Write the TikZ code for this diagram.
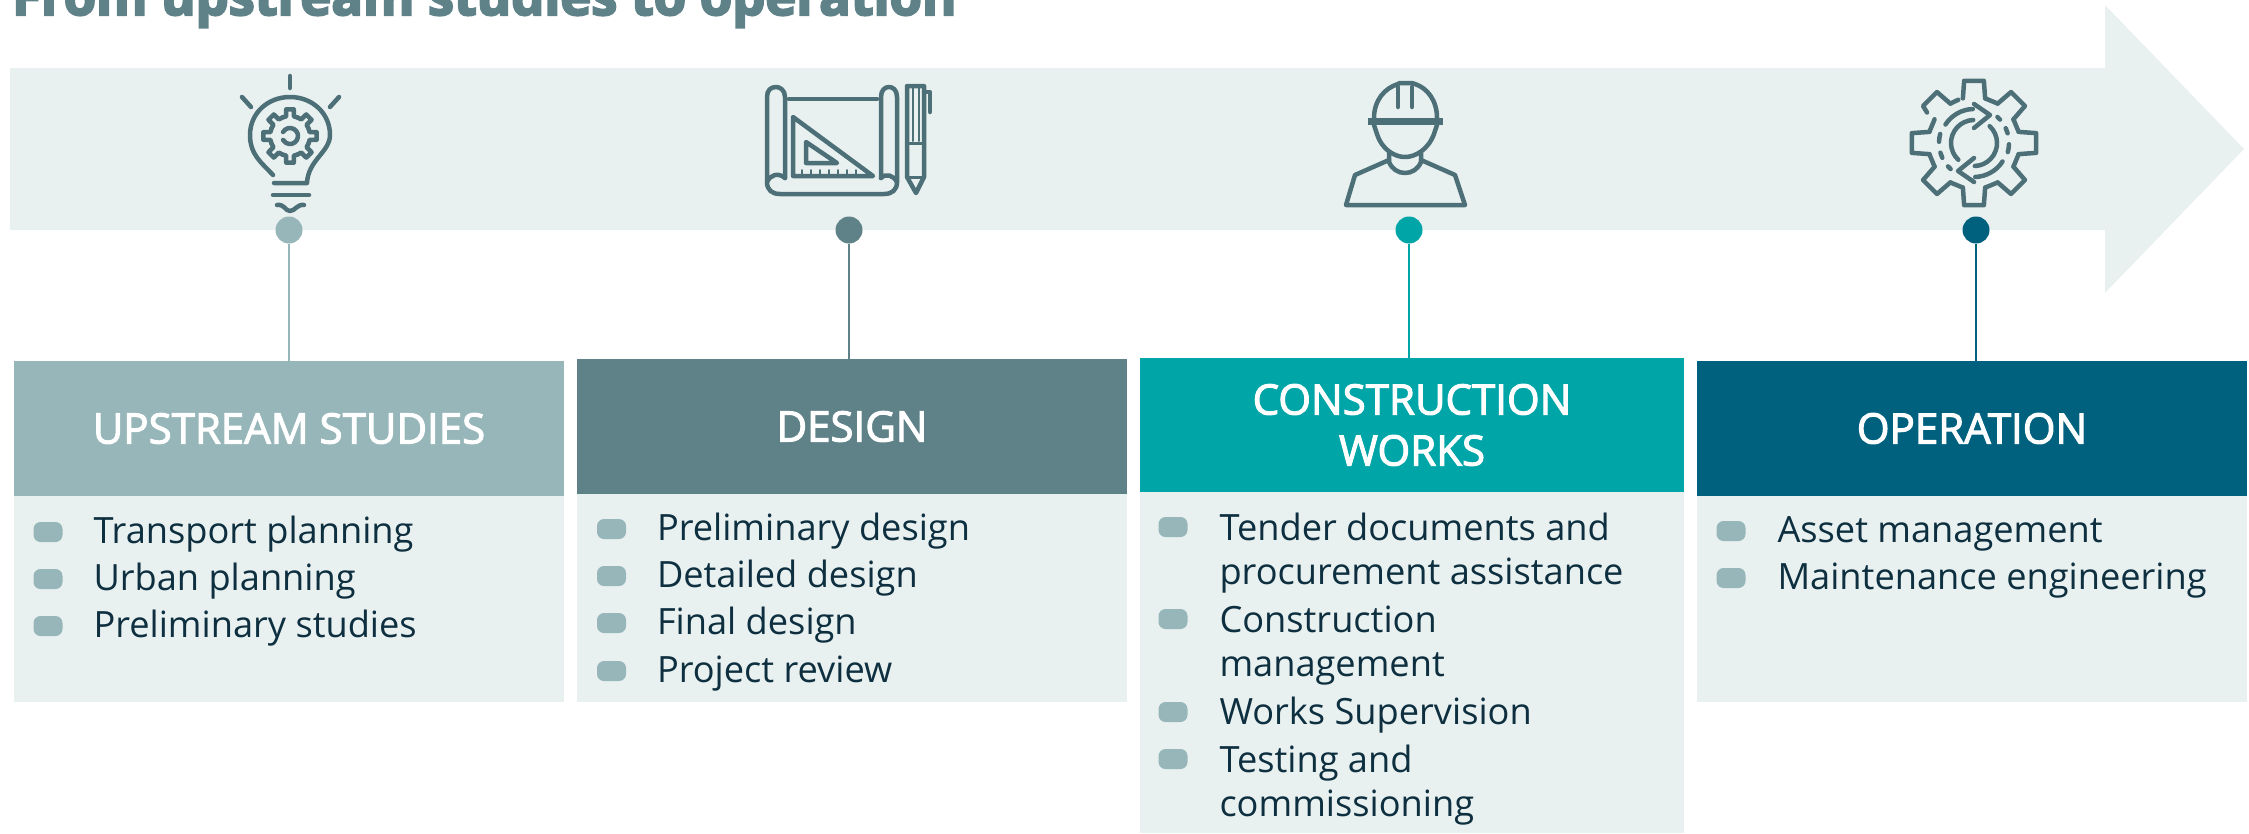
\documentclass[tikz,border=0pt]{standalone}
\usepackage{fontspec}
\setmainfont{Open Sans}
\newfontfamily\headfont[FakeBold=2.5]{Open Sans}
\newfontfamily\titlefont[FakeBold=4]{Open Sans Bold}
\usepackage{tikz}
\usetikzlibrary{positioning}
\definecolor{pale}{HTML}{E9F1F0}
\definecolor{studiesc}{HTML}{97B6B9}
\definecolor{designc}{HTML}{5F8289}
\definecolor{worksc}{HTML}{00A5A8}
\definecolor{operc}{HTML}{00617F}
\definecolor{inkc}{HTML}{0D2F3F}
\definecolor{iconc}{HTML}{4D6F77}
\tikzstyle{heading} = [rectangle, inner sep=0pt, outer sep=0pt, minimum width=550pt, minimum height=135pt, text centered, text=white, font=\headfont\fontsize{42}{51}\selectfont]
\tikzstyle{bodybox} = [rectangle, inner sep=0pt, outer sep=0pt, minimum width=550pt, fill=pale]
\tikzstyle{dot} = [circle, inner sep=0pt, outer sep=0pt, minimum size=27pt]
\tikzstyle{bullet} = [rectangle, rounded corners=7pt, inner sep=0pt, outer sep=0pt, minimum width=29pt, minimum height=20pt, fill=studiesc]
\tikzstyle{entry} = [anchor=base west, inner sep=0pt, outer sep=0pt, align=left, text=inkc, font=\fontsize{36.2}{44}\selectfont]
\tikzstyle{icon} = [draw=iconc, line width=4.5pt, line cap=round, line join=round]
\tikzstyle{link} = [line width=2.5pt]

\begin{document}
\begin{tikzpicture}[x=1pt, y=-1pt, node distance=47pt]
\useasboundingbox (0,0) rectangle (2249,833);

\node (title) [anchor=base west, inner sep=0pt, text=designc, font=\titlefont\fontsize{52.4}{60}\selectfont] at (12,15) {From upstream studies to operation};

\fill [pale] (10,68) -- (2105,68) -- (2105,5) -- (2244,149) -- (2105,293) -- (2105,230) -- (10,230) -- cycle;

\node (headA) [heading, fill=studiesc] at (289,428.5) {UPSTREAM STUDIES};
\node (headB) [heading, fill=designc] at (852,426.5) {DESIGN};
\node (headC) [heading, fill=worksc, minimum width=544pt, minimum height=134pt, align=center] at (1412,425) {CONSTRUCTION\\WORKS};
\node (headD) [heading, fill=operc] at (1972,428.5) {OPERATION};

\node (bodyA) [bodybox, below=0pt of headA, minimum height=206pt] {};
\node (bodyB) [bodybox, below=0pt of headB, minimum height=208pt] {};
\node (bodyC) [bodybox, below=0pt of headC, minimum width=544pt, minimum height=341pt] {};
\node (bodyD) [bodybox, below=0pt of headD, minimum height=206pt] {};

\node (dotA) [dot, fill=studiesc] at (289,230) {};
\node (dotB) [dot, fill=designc] at (849,230) {};
\node (dotC) [dot, fill=worksc] at (1409,230) {};
\node (dotD) [dot, fill=operc] at (1976,230) {};
\draw [link, studiesc] (dotA) -- (dotA |- headA.north);
\draw [link, designc] (dotB) -- (dotB |- headB.north);
\draw [link, worksc] (dotC) -- (dotC |- headC.north);
\draw [link, operc] (dotD) -- (dotD |- headD.north);

\node (markA1) [bullet] at (48,532) {};
\node (markA2) [bullet, below of=markA1] {};
\node (markA3) [bullet, below of=markA2] {};
\node (itemA1) [entry] at ([xshift=31pt,yshift=-11pt]markA1.east) {Transport planning};
\node (itemA2) [entry] at ([xshift=31pt,yshift=-11pt]markA2.east) {Urban planning};
\node (itemA3) [entry] at ([xshift=31pt,yshift=-11pt]markA3.east) {Preliminary studies};

\node (markB1) [bullet] at (611.5,529) {};
\node (markB2) [bullet, below of=markB1] {};
\node (markB3) [bullet, below of=markB2] {};
\node (markB4) [bullet, below of=markB3, yshift=-1pt] {};
\node (itemB1) [entry] at ([xshift=31pt,yshift=-11pt]markB1.east) {Preliminary design};
\node (itemB2) [entry] at ([xshift=31pt,yshift=-11pt]markB2.east) {Detailed design};
\node (itemB3) [entry] at ([xshift=31pt,yshift=-11pt]markB3.east) {Final design};
\node (itemB4) [entry] at ([xshift=31pt,yshift=-11pt]markB4.east) {Project review};

\node (markC1) [bullet] at (1173,527) {};
\node (markC2) [bullet] at (1173,619) {};
\node (markC3) [bullet] at (1173,712) {};
\node (markC4) [bullet, below of=markC3] {};
\node (itemC1) [entry] at ([xshift=32pt,yshift=-57pt]markC1.east) {Tender documents and\\procurement assistance};
\node (itemC2) [entry] at ([xshift=32pt,yshift=-57pt]markC2.east) {Construction\\management};
\node (itemC3) [entry] at ([xshift=32pt,yshift=-12pt]markC3.east) {Works Supervision};
\node (itemC4) [entry] at ([xshift=32pt,yshift=-57pt]markC4.east) {Testing and\\commissioning};

\node (markD1) [bullet] at (1731,531) {};
\node (markD2) [bullet, below of=markD1] {};
\node (itemD1) [entry] at ([xshift=32pt,yshift=-11pt]markD1.east) {Asset management};
\node (itemD2) [entry] at ([xshift=32pt,yshift=-11pt]markD2.east) {Maintenance engineering};

\draw [icon] (290,76) -- (290,88);
\draw [icon] (242,97) -- (251,107);
\draw [icon] (339,97) -- (330,107);
\draw [icon] (273,175) .. controls (262,163) and (250,155) .. (250,135) .. controls (250,113) and (268,97) .. (290,97) .. controls (312,97) and (330,113) .. (330,135) .. controls (330,152) and (308,160) .. (307,183) -- (274,183);
\draw [icon] (273,195) -- (309,195);
\draw [icon] (277,205) .. controls (285,204) and (285,211) .. (290,211) .. controls (295,211) and (297,204) .. (304,205);
\begin{scope}[shift={(290,136)}]
\foreach \a in {0,45,...,315}
  \draw [icon] (\a-22.5:20pt) -- (\a-11:20pt) -- (\a-8:27pt) -- (\a+8:27pt) -- (\a+11:20pt) -- (\a+22.5:20pt);
\draw [icon] (150:8pt) arc[start angle=150, end angle=-150, radius=8pt];
\end{scope}

\draw [icon] (785,178) -- (785,97) .. controls (785,90) and (780,87) .. (776,87) .. controls (771,87) and (767,90) .. (767,97) -- (767,182) .. controls (767,190) and (772,194) .. (780,194) -- (884,194) .. controls (892,194) and (897,190) .. (897,182) -- (897,97) .. controls (897,90) and (893,87) .. (889,87) .. controls (885,87) and (881,90) .. (881,97) -- (881,178);
\draw [icon] (767,182) .. controls (770,175) and (778,172) .. (785,178);
\draw [icon] (881,178) .. controls (886,173) and (893,175) .. (897,182);
\draw [icon] (789,99) -- (877,99);
\draw [icon] (793,117) -- (793,176) -- (873,176) -- cycle;
\draw [icon] (806,142) -- (806,163) -- (837,163) -- cycle;
\foreach \x in {802,811,...,856}
  \draw [icon, line width=2pt] (\x,176) -- (\x,170);
\draw [icon] (907,86) -- (924,86) -- (924,177) -- (916,193) -- (907,177) -- cycle;
\draw [icon, line width=3pt] (907,143) -- (924,143);
\draw [icon, line width=3pt] (907,177) -- (924,177);
\draw [icon, line width=2pt] (913,88) -- (913,141);
\draw [icon, line width=2pt] (919,88) -- (919,141);
\draw [icon] (924,92) -- (930,92) -- (930,112);

\draw [icon] (1374,118) .. controls (1374,100) and (1385,88) .. (1398,84) -- (1400,83) -- (1412,83) -- (1415,84) .. controls (1427,88) and (1437,100) .. (1437,118);
\draw [icon, line width=7pt, line cap=butt] (1368,121) -- (1443,121);
\draw [icon] (1398,87) -- (1398,107);
\draw [icon] (1412,87) -- (1412,107);
\draw [icon] (1374,125) -- (1377,134) .. controls (1382,150) and (1395,157) .. (1405,157) .. controls (1415,157) and (1428,150) .. (1434,134) -- (1437,125);
\draw [icon] (1389,153) -- (1389,162) .. controls (1392,169) and (1398,173) .. (1405,173) .. controls (1412,173) and (1418,169) .. (1421,162) -- (1421,153);
\draw [icon] (1389,160) -- (1355,175) -- (1346,205) -- (1465,205) -- (1455,175) -- (1421,160);

\begin{scope}[shift={(1974,143)}]
\foreach \a in {0,45,90,180,225,270,315}
  \draw [icon] (\a-14:46pt) -- (\a-9:63pt) -- (\a+9:63pt) -- (\a+14:46pt);
\draw [icon] (121:46pt) -- (126:63pt) -- (144:63pt) -- (147:56pt);
\foreach \a in {22.5,67.5,157.5,202.5,247.5,292.5,337.5}
  \draw [icon] (\a-8.5:46pt) -- (\a+8.5:46pt);
\draw [icon] (121:46pt) -- (110:46pt);
\foreach \r in {0,180} {
  \begin{scope}[rotate=\r]
  \draw [icon] (227:23pt) arc[start angle=227, end angle=92, radius=23pt];
  \draw [icon] (147:34pt) arc[start angle=147, end angle=92, radius=34pt];
  \draw [icon] (178:35pt) arc[start angle=178, end angle=165, radius=35pt];
  \draw [icon] (205:35pt) arc[start angle=205, end angle=196, radius=35pt];
  \draw [icon] (228:35pt) arc[start angle=228, end angle=222, radius=35pt];
  \draw [icon] (0,-39) -- (16,-28) -- (0,-15);
  \end{scope}
}
\end{scope}
\end{tikzpicture}
\end{document}
